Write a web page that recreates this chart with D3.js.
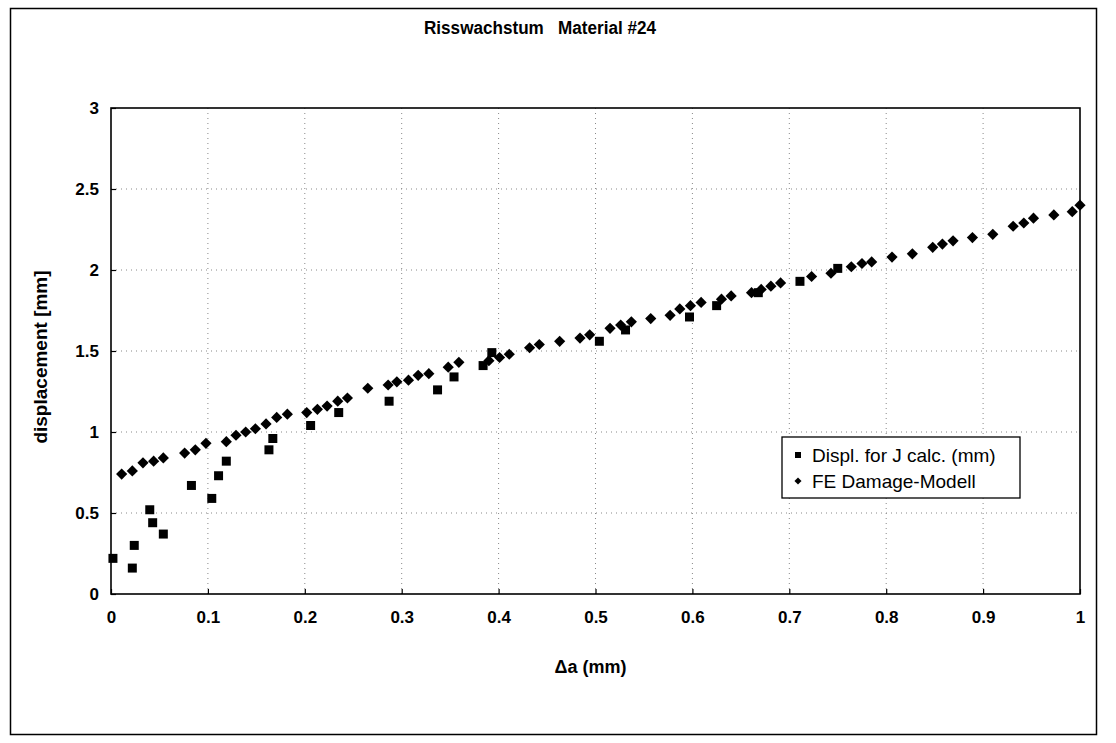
<!DOCTYPE html>
<html>
<head>
<meta charset="utf-8">
<script src="https://cdn.jsdelivr.net/npm/d3@7"></script>
<style>
  body { margin: 0; background: #fff; }
  svg { display: block; font-family: "Liberation Sans", Arial, sans-serif; }
</style>
</head>
<body>
<div class="chart"></div>
<script>
// Displ. for J calc. (mm)
const jCalcX = [0.002, 0.022, 0.024, 0.040, 0.043, 0.054, 0.083, 0.104, 0.111, 0.119,
  0.163, 0.167, 0.206, 0.235, 0.287, 0.337, 0.354, 0.384, 0.393, 0.504,
  0.531, 0.597, 0.625, 0.668, 0.711, 0.750];
const jCalcY = [0.22, 0.16, 0.30, 0.52, 0.44, 0.37, 0.67, 0.59, 0.73, 0.82,
  0.89, 0.96, 1.04, 1.12, 1.19, 1.26, 1.34, 1.41, 1.49, 1.56,
  1.63, 1.71, 1.78, 1.86, 1.93, 2.01];

// FE Damage-Modell
const feX = [0.011, 0.022, 0.033, 0.044, 0.054, 0.076, 0.087, 0.098, 0.119, 0.129,
  0.139, 0.149, 0.160, 0.171, 0.182, 0.202, 0.213, 0.223, 0.234, 0.244,
  0.265, 0.286, 0.295, 0.307, 0.317, 0.328, 0.348, 0.359, 0.390, 0.401,
  0.411, 0.432, 0.442, 0.463, 0.484, 0.494, 0.515, 0.526, 0.537, 0.557,
  0.577, 0.587, 0.598, 0.609, 0.630, 0.640, 0.661, 0.671, 0.681, 0.691,
  0.723, 0.743, 0.764, 0.775, 0.785, 0.806, 0.827, 0.848, 0.858, 0.869,
  0.889, 0.910, 0.931, 0.942, 0.952, 0.973, 0.992, 1.0];
const feY = [0.74, 0.76, 0.81, 0.82, 0.84, 0.87, 0.89, 0.93, 0.94, 0.98,
  1.00, 1.02, 1.05, 1.09, 1.11, 1.12, 1.14, 1.16, 1.19, 1.21,
  1.27, 1.29, 1.31, 1.32, 1.35, 1.36, 1.40, 1.43, 1.44, 1.46,
  1.48, 1.52, 1.54, 1.56, 1.58, 1.60, 1.64, 1.66, 1.68, 1.70,
  1.72, 1.76, 1.78, 1.80, 1.82, 1.84, 1.86, 1.88, 1.90, 1.92,
  1.96, 1.98, 2.02, 2.04, 2.05, 2.08, 2.10, 2.14, 2.16, 2.18,
  2.20, 2.22, 2.27, 2.29, 2.32, 2.34, 2.36, 2.40];

const xTicks = [0, 0.1, 0.2, 0.3, 0.4, 0.5, 0.6, 0.7, 0.8, 0.9, 1];
const yTicks = [0, 0.5, 1, 1.5, 2, 2.5, 3];
const seriesNames = ["Displ. for J calc. (mm)", "FE Damage-Modell"];

const width = 1116;
const height = 743;
const plot = { left: 111, right: 1080, top: 108, bottom: 594 };

const svg = d3
  .select(".chart")
  .append("svg")
  .attr("width", width)
  .attr("height", height);

// outer chart frame
svg
  .append("rect")
  .attr("x", 10.5)
  .attr("y", 8.5)
  .attr("width", 1086)
  .attr("height", 726)
  .attr("fill", "none")
  .attr("stroke", "#000")
  .attr("stroke-width", 1.5);

svg
  .append("text")
  .attr("x", 540)
  .attr("y", 34)
  .attr("text-anchor", "middle")
  .attr("font-weight", "bold")
  .attr("font-size", 18)
  .attr("textLength", 232)
  .attr("lengthAdjust", "spacingAndGlyphs")
  .style("white-space", "pre")
  .text("Risswachstum   Material #24");

const x = d3.scaleLinear().domain([0, 1]).range([plot.left, plot.right]);
const y = d3.scaleLinear().domain([0, 3]).range([plot.bottom, plot.top]);

// dotted grid
svg
  .append("g")
  .selectAll("line")
  .data(xTicks.slice(1, -1))
  .enter()
  .append("line")
  .attr("x1", d => x(d))
  .attr("x2", d => x(d))
  .attr("y1", plot.top)
  .attr("y2", plot.bottom)
  .attr("stroke", "#888")
  .attr("stroke-dasharray", "1,4");
svg
  .append("g")
  .selectAll("line")
  .data(yTicks.slice(1, -1))
  .enter()
  .append("line")
  .attr("x1", plot.left)
  .attr("x2", plot.right)
  .attr("y1", d => y(d))
  .attr("y2", d => y(d))
  .attr("stroke", "#888")
  .attr("stroke-dasharray", "1,4");

const xAxis = d3.axisBottom(x).tickValues(xTicks).tickFormat(d3.format("")).tickSizeInner(-5).tickSizeOuter(0).tickPadding(17);
const yAxis = d3.axisLeft(y).tickValues(yTicks).tickFormat(d3.format("")).tickSizeInner(-5).tickSizeOuter(0).tickPadding(12);

const gx = svg.append("g").attr("transform", `translate(0, ${plot.bottom})`).call(xAxis);
const gy = svg.append("g").attr("transform", `translate(${plot.left}, 0)`).call(yAxis);
[gx, gy].forEach(g => {
  g.select(".domain").remove();
  g.selectAll("line").attr("stroke", "#000").attr("stroke-width", 1.2);
  g.selectAll("text")
    .attr("font-size", 17)
    .attr("font-weight", "bold")
    .attr("font-family", "'Liberation Sans', Arial, sans-serif")
    .attr("fill", "#000");
});

// plot frame
svg
  .append("rect")
  .attr("x", plot.left)
  .attr("y", plot.top)
  .attr("width", plot.right - plot.left)
  .attr("height", plot.bottom - plot.top)
  .attr("fill", "none")
  .attr("stroke", "#000")
  .attr("stroke-width", 1.6);

svg
  .append("text")
  .attr("x", (plot.left + plot.right) / 2 - 5)
  .attr("y", 673)
  .attr("text-anchor", "middle")
  .attr("font-weight", "bold")
  .attr("font-size", 18)
  .text("Δa (mm)");

svg
  .append("text")
  .attr("transform", `translate(47, 357) rotate(-90)`)
  .attr("text-anchor", "middle")
  .attr("font-weight", "bold")
  .attr("font-size", 19)
  .text("displacement [mm]");

const squareSym = d3.symbol().type(d3.symbolSquare).size(81);
const diamondSym = d3.symbol().type(d3.symbolDiamond2).size(80);

svg
  .append("g")
  .selectAll("path")
  .data(feX)
  .enter()
  .append("path")
  .attr("d", diamondSym)
  .attr("transform", (d, i) => `translate(${x(d)}, ${y(feY[i])})`)
  .attr("fill", "#000");

svg
  .append("g")
  .selectAll("path")
  .data(jCalcX)
  .enter()
  .append("path")
  .attr("d", squareSym)
  .attr("transform", (d, i) => `translate(${x(d)}, ${y(jCalcY[i])})`)
  .attr("fill", "#000");

// legend
const legend = svg.append("g").attr("transform", "translate(782, 437)");
legend
  .append("rect")
  .attr("width", 238)
  .attr("height", 61)
  .attr("fill", "#fff")
  .attr("stroke", "#000")
  .attr("stroke-width", 1.3);
const legendSyms = [d3.symbol().type(d3.symbolSquare).size(36), d3.symbol().type(d3.symbolDiamond2).size(32)];
seriesNames.forEach((name, i) => {
  legend
    .append("path")
    .attr("d", legendSyms[i])
    .attr("transform", `translate(16, ${18 + i * 26})`)
    .attr("fill", "#000");
  legend
    .append("text")
    .attr("x", 30)
    .attr("y", 25 + i * 26)
    .attr("font-size", 19)
    .text(name);
});
</script>
</body>
</html>
